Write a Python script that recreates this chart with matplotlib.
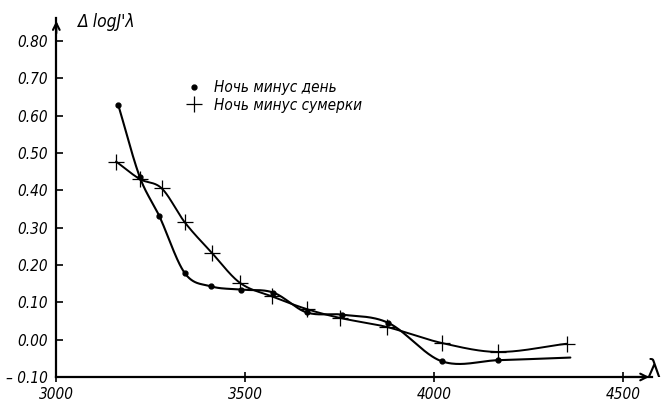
import numpy as np
import matplotlib
matplotlib.use("Agg")
import matplotlib.pyplot as plt
from matplotlib.lines import Line2D

# ---- data ----
wl_day = [3164, 3221, 3272, 3340, 3408, 3488, 3574, 3662, 3755, 3878, 4020, 4169, 4360]
val_day = [0.628, 0.435, 0.332, 0.178, 0.143, 0.134, 0.126, 0.073, 0.067, 0.045, -0.058, -0.055, -0.048]
day_marked = 12  # the last point is the curve end, without a dot

wl_twi = [3158, 3221, 3279, 3340, 3411, 3486, 3570, 3662, 3751, 3874, 4020, 4169, 4350]
val_twi = [0.477, 0.430, 0.405, 0.314, 0.233, 0.152, 0.116, 0.082, 0.058, 0.034, -0.009, -0.033, -0.011]

x_ticks = [3000, 3500, 4000, 4500]
x_ticklabels = ["3000", "3500", "4000", "4500"]
y_ticks = [-0.10, 0.00, 0.10, 0.20, 0.30, 0.40, 0.50, 0.60, 0.70, 0.80]
y_ticklabels = ["\u2013 0.10", "0.00", "0.10", "0.20", "0.30", "0.40", "0.50", "0.60", "0.70", "0.80"]
label_day = "Ночь минус день"
label_twi = "Ночь минус сумерки"
y_title = "\u0394 logJ'\u03bb"
x_title = "\u03bb"


def smooth(x, y, n=40):
    """Cubic Hermite curve (finite-difference tangents) through the points, for drawing."""
    x = np.asarray(x, float)
    y = np.asarray(y, float)
    h = np.diff(x)
    d = np.diff(y) / h
    m = np.zeros_like(y)
    m[0], m[-1] = d[0], d[-1]
    for i in range(1, len(y) - 1):
        m[i] = (y[i + 1] - y[i - 1]) / (x[i + 1] - x[i - 1])
    xs, ys = [], []
    for i in range(len(x) - 1):
        t = np.linspace(0, 1, n, endpoint=(i == len(x) - 2))
        h00 = 2 * t**3 - 3 * t**2 + 1
        h10 = t**3 - 2 * t**2 + t
        h01 = -2 * t**3 + 3 * t**2
        h11 = t**3 - t**2
        xs.append(x[i] + t * h[i])
        ys.append(h00 * y[i] + h10 * h[i] * m[i] + h01 * y[i + 1] + h11 * h[i] * m[i + 1])
    return np.concatenate(xs), np.concatenate(ys)


fig = plt.figure(figsize=(6.61, 4.12), dpi=100)
ax = fig.add_axes([0.0852, 0.085, 0.9012, 0.871])

font = dict(family="DejaVu Sans", style="italic", stretch="condensed")

xs, ys = smooth(wl_day, val_day)
ax.plot(xs, ys, color="black", lw=1.5, solid_capstyle="round")
ax.plot(wl_day[:day_marked], val_day[:day_marked], "o", color="black", ms=3.5)

xs, ys = smooth(wl_twi, val_twi)
ax.plot(xs, ys, color="black", lw=1.4, solid_capstyle="round")
ax.plot(wl_twi, val_twi, "+", color="black", ms=11, mew=0.9)

ax.set_xlim(3000, 4576)
ax.set_ylim(-0.10, 0.861)

ax.spines["top"].set_visible(False)
ax.spines["right"].set_visible(False)
ax.spines["left"].set_linewidth(1.6)
ax.spines["bottom"].set_linewidth(1.6)

ax.set_xticks(x_ticks)
ax.set_xticklabels(x_ticklabels, fontsize=11, **font)
ax.set_yticks(y_ticks)
ax.set_yticklabels(y_ticklabels, fontsize=11, **font)
ax.tick_params(axis="y", direction="in", length=5, width=1.2, pad=6)
ax.tick_params(axis="x", direction="inout", length=7, width=1.2, pad=4)

# axis arrows
ax.annotate("", xy=(0, 1.0), xytext=(0, 0.95), xycoords="axes fraction",
            arrowprops=dict(arrowstyle="->", lw=1.5, color="black", mutation_scale=12))
ax.annotate("", xy=(1.0, 0), xytext=(0.95, 0), xycoords="axes fraction",
            arrowprops=dict(arrowstyle="->", lw=1.5, color="black", mutation_scale=12))

fig.text(78 / 661, 1 - 22 / 412, y_title, fontsize=12.5, ha="left", va="center", **font)
fig.text(660 / 661, 1 - 370 / 412, x_title, fontsize=17, ha="right", va="center",
         family="DejaVu Sans")

handles = [Line2D([], [], ls="none", marker="o", color="black", ms=3.5),
           Line2D([], [], ls="none", marker="+", color="black", ms=11, mew=0.9)]
ax.legend(handles, [label_day, label_twi], loc="upper left", bbox_to_anchor=(0.205, 0.848),
          frameon=False, borderpad=0, handlelength=1.0, handletextpad=0.85, labelspacing=0.15,
          prop=dict(size=11, **font))

fig.savefig("out.png", dpi=100)
